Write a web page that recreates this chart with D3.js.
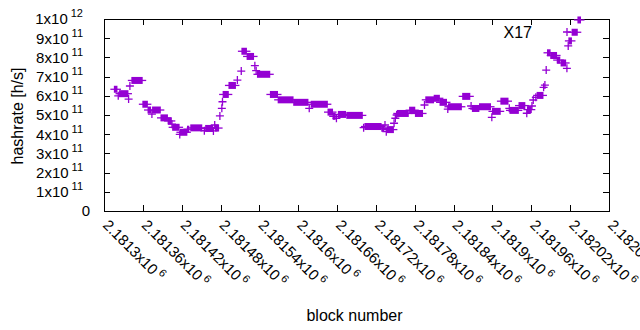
<!DOCTYPE html>
<html>
<head>
<meta charset="utf-8">
<script src="https://cdn.jsdelivr.net/npm/d3@7"></script>
<style>
  body { margin: 0; background: #fff; }
  svg text { font-family: "Liberation Sans", Arial, sans-serif; fill: #000; }
</style>
</head>
<body>
<div id="chart"></div>
<script>
// tick values and labels (mantissa, exponent)
var xTickValues = [2181300, 2181360, 2181420, 2181480, 2181540, 2181600, 2181660,
                   2181720, 2181780, 2181840, 2181900, 2181960, 2182020, 2182080];
var xTickLabels = ["2.1813", "2.18136", "2.18142", "2.18148", "2.18154", "2.1816", "2.18166",
                   "2.18172", "2.18178", "2.18184", "2.1819", "2.18196", "2.18202", "2.18208"];
var yTickValues = [0, 1e11, 2e11, 3e11, 4e11, 5e11, 6e11, 7e11, 8e11, 9e11, 1e12];
var yTickLabels = ["0", "1", "2", "3", "4", "5", "6", "7", "8", "9", "1"];
var yTickExp = ["", "11", "11", "11", "11", "11", "11", "11", "11", "11", "12"];

// runs of consecutive blocks with the same hashrate
var runFrom = [2181316, 2181324, 2181343, 2181360, 2181368, 2181375, 2181388, 2181399, 2181406, 2181418,
               2181429, 2181434, 2181457, 2181472, 2181484, 2181493, 2181513, 2181521, 2181537, 2181557,
               2181569, 2181593, 2181620, 2181646, 2181654, 2181662, 2181675, 2181703, 2181729, 2181737,
               2181753, 2181772, 2181781, 2181797, 2181810, 2181819, 2181832, 2181854, 2181869, 2181880,
               2181900, 2181913, 2181927, 2181941, 2181954, 2181969, 2181985, 2181990, 2182000, 2182006,
               2182018, 2182023, 2182032];
var runTo = [2181320, 2181337, 2181359, 2181367, 2181372, 2181387, 2181398, 2181404, 2181416, 2181428,
             2181431, 2181451, 2181468, 2181477, 2181492, 2181503, 2181520, 2181531, 2181556, 2181568,
             2181592, 2181615, 2181645, 2181653, 2181657, 2181673, 2181699, 2181728, 2181732, 2181747,
             2181770, 2181780, 2181792, 2181809, 2181818, 2181829, 2181852, 2181865, 2181879, 2181897,
             2181912, 2181924, 2181940, 2181950, 2181960, 2181978, 2181989, 2181999, 2182004, 2182013,
             2182022, 2182031, 2182036];
var runHashrate = [6.34e11, 6.11e11, 6.80e11, 5.56e11, 5.26e11, 5.26e11, 4.85e11, 4.69e11, 4.36e11, 4.10e11,
                   4.26e11, 4.33e11, 4.30e11, 4.32e11, 6.07e11, 6.54e11, 8.32e11, 8.05e11, 7.12e11, 6.07e11,
                   5.79e11, 5.66e11, 5.56e11, 5.15e11, 4.93e11, 5.03e11, 4.98e11, 4.40e11, 4.31e11, 4.24e11,
                   5.08e11, 5.25e11, 5.08e11, 5.79e11, 5.87e11, 5.66e11, 5.43e11, 5.97e11, 5.34e11, 5.43e11,
                   5.19e11, 5.72e11, 5.24e11, 5.49e11, 5.28e11, 6.02e11, 8.24e11, 8.10e11, 7.86e11, 7.71e11,
                   8.86e11, 9.31e11, 9.95e11];

// single blocks
var pointBlock = [2181322, 2181338, 2181340, 2181374, 2181405, 2181417, 2181455, 2181469, 2181471, 2181479,
                  2181482, 2181483, 2181506, 2181512, 2181533, 2181535, 2181617, 2181659, 2181701, 2181734,
                  2181736, 2181748, 2181750, 2181752, 2181795, 2181831, 2181867, 2181899, 2181926, 2181953,
                  2181961, 2181963, 2181967, 2181979, 2181981, 2181983, 2182015, 2182017];
var pointHashrate = [6.00e11, 5.83e11, 6.51e11, 5.05e11, 4.52e11, 3.99e11, 4.18e11, 4.17e11, 4.48e11, 4.95e11,
                     5.35e11, 5.69e11, 6.82e11, 7.29e11, 7.57e11, 7.31e11, 5.35e11, 4.83e11, 4.34e11, 4.48e11,
                     4.13e11, 4.57e11, 4.83e11, 5.00e11, 5.52e11, 5.31e11, 5.47e11, 4.88e11, 5.35e11, 5.09e11,
                     5.47e11, 5.78e11, 5.92e11, 6.44e11, 6.56e11, 7.34e11, 7.43e11, 8.60e11];

var seriesName = "X17";
var color = "#9400d3";

var margin = {top: 19, right: 31, bottom: 119, left: 104};
var width = 640 - margin.left - margin.right;
var height = 330 - margin.top - margin.bottom;
var arm = 4;

var svg = d3.select("#chart").append("svg")
    .attr("width", 640)
    .attr("height", 330);

var g = svg.append("g")
    .attr("transform", "translate(" + margin.left + "," + margin.top + ")");

var x = d3.scaleLinear()
    .domain([xTickValues[0], xTickValues[xTickValues.length - 1]])
    .range([0, width]);

var y = d3.scaleLinear()
    .domain([0, 1e12])
    .range([height, 0]);

// inward ticks on all four sides
function tickAxis(axis, tr) {
    var a = g.append("g").attr("transform", tr).call(axis);
    a.select(".domain").remove();
    a.selectAll("text").remove();
    a.selectAll("line").attr("stroke", "#000").attr("shape-rendering", "crispEdges");
}
tickAxis(d3.axisLeft(y).tickValues(yTickValues).tickSize(-6), "translate(0,0)");
tickAxis(d3.axisRight(y).tickValues(yTickValues).tickSize(-6), "translate(" + width + ",0)");
tickAxis(d3.axisBottom(x).tickValues(xTickValues).tickSize(-6), "translate(0," + height + ")");
tickAxis(d3.axisTop(x).tickValues(xTickValues).tickSize(-6), "translate(0,0)");

g.append("rect")
    .attr("width", width)
    .attr("height", height)
    .attr("fill", "none")
    .attr("stroke", "#000")
    .attr("shape-rendering", "crispEdges");

// y tick labels
yTickValues.forEach(function(v, i) {
    var t = g.append("text")
        .attr("x", yTickExp[i] ? -21 : -14)
        .attr("y", y(v))
        .attr("dy", "0.36em")
        .attr("text-anchor", "end")
        .style("font-size", "15px");
    if (yTickExp[i]) {
        t.append("tspan").text(yTickLabels[i] + "x10");
        t.append("tspan").attr("dx", 3).attr("dy", -7).style("font-size", "11px").text(yTickExp[i]);
    } else {
        t.text(yTickLabels[i]);
    }
});

// x tick labels, rotated
xTickValues.forEach(function(v, i) {
    var t = g.append("text")
        .attr("transform", "translate(" + (x(v) - 2) + "," + (height + 15) + ") rotate(45)")
        .attr("text-anchor", "start")
        .style("font-size", "15px");
    t.append("tspan").text(xTickLabels[i] + "x10");
    t.append("tspan").attr("dx", 3).attr("dy", -6).style("font-size", "11px").text("6");
});

// axis titles
svg.append("text")
    .attr("x", margin.left + width / 2 - 2)
    .attr("y", 321)
    .attr("text-anchor", "middle")
    .style("font-size", "16px")
    .text("block number");

svg.append("text")
    .attr("transform", "translate(23," + (margin.top + height / 2 + 1) + ") rotate(-90)")
    .attr("text-anchor", "middle")
    .style("font-size", "16px")
    .text("hashrate [h/s]");

// runs: overlapping '+' marks merge into a band
var runs = runFrom.map(function(d, i) { return {from: d, to: runTo[i], v: runHashrate[i]}; });
var pts = pointBlock.map(function(d, i) { return {b: d, v: pointHashrate[i]}; });

var runG = g.selectAll("g.run").data(runs).enter().append("g").attr("class", "run");
runG.append("rect")
    .attr("x", function(d) { return x(d.from) - 0.5; })
    .attr("y", function(d) { return y(d.v) - arm + 0.5; })
    .attr("width", function(d) { return x(d.to) - x(d.from) + 1; })
    .attr("height", 2 * arm - 1)
    .attr("fill", color);
runG.append("line")
    .attr("x1", function(d) { return x(d.from) - arm; })
    .attr("x2", function(d) { return x(d.to) + arm; })
    .attr("y1", function(d) { return y(d.v); })
    .attr("y2", function(d) { return y(d.v); })
    .attr("stroke", color)
    .attr("stroke-width", 1.3);

function plus(sel, cx, cy) {
    sel.append("path")
        .attr("d", "M" + (cx - arm) + "," + cy + "H" + (cx + arm) + "M" + cx + "," + (cy - arm) + "V" + (cy + arm))
        .attr("stroke", color)
        .attr("stroke-width", 1.3)
        .attr("fill", "none");
}

pts.forEach(function(d) { plus(g, x(d.b), y(d.v)); });

// key
g.append("text")
    .attr("x", width - 77)
    .attr("y", 13)
    .attr("dy", "0.36em")
    .attr("text-anchor", "end")
    .style("font-size", "16px")
    .text(seriesName);
plus(g, width - 42, 13);
</script>
</body>
</html>
